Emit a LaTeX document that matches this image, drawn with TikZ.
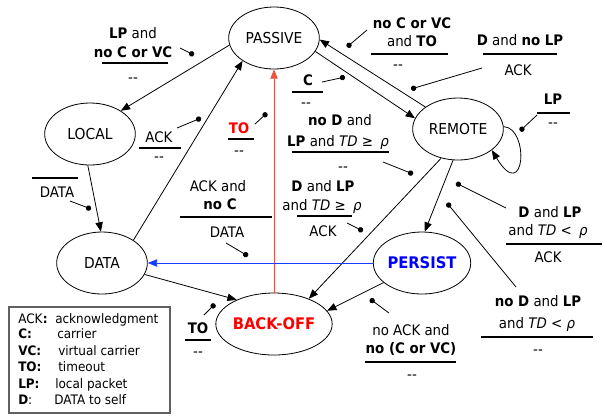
\documentclass[tikz,border=0pt]{standalone}
\usepackage{fontspec}
\setmainfont{DejaVu Sans}[FakeStretch=0.92]
\usetikzlibrary{arrows.meta,shapes.geometric}
\definecolor{redc}{HTML}{FF0000}
\definecolor{redl}{HTML}{F0503C}
\definecolor{bluec}{HTML}{0000FF}
\definecolor{bluel}{HTML}{1A3CFF}
\definecolor{legb}{HTML}{606060}
\newcommand\nf{\fontsize{11.3}{13}\selectfont}
\newcommand\bnf{\fontsize{12}{14}\selectfont\bfseries}
\newcommand\lf{\fontsize{10.9}{13}\selectfont}
\newcommand\gf{\fontsize{9.8}{12}\selectfont}
\newcommand\dd{-{}-}
\begin{document}
\begin{tikzpicture}[x=0.75pt,y=-0.75pt,
 st/.style={ellipse,draw,line width=0.6pt,minimum width=68pt,minimum height=46.5pt,inner sep=0pt,font=\nf},
 tx/.style={anchor=base,inner sep=0pt,font=\lf},
 gx/.style={anchor=base west,inner sep=0pt,font=\gf},
 rl/.style={line width=1.3pt},
 ed/.style={line width=0.6pt,-{Triangle[length=7pt,width=5.5pt]}},
 pt/.style={line width=0.6pt,-{Circle[length=4pt]}},
]
\useasboundingbox (0,0) rectangle (605,415);

% states
\node[st] (PASSIVE) at (274,38) {PASSIVE};
\node[st] (LOCAL) at (90,134) {LOCAL};
\node[st] (REMOTE) at (458,129) {REMOTE};
\node[st] (DATA) at (102,263) {DATA};
\node[st] (BACKOFF) at (274,324) {\bnf\textcolor{redc}{BACK-OFF}};
\node[st] (PERSIST) at (422,263) {\bnf\textcolor{bluec}{PERSIST}};

% transitions
\draw[ed] (PASSIVE.189) -- (LOCAL.37);
\draw[ed] (LOCAL.266) -- (DATA.92);
\draw[ed] (DATA.36) -- (PASSIVE.216);
\draw[ed,redl] (BACKOFF.90) -- (PASSIVE.270);
\draw[ed] (PASSIVE.342) -- (REMOTE.166);
\draw[ed] (REMOTE.146) -- (PASSIVE.358);
\draw[ed] (REMOTE.3) .. controls (530,128) and (525,205) .. (REMOTE.328);
\draw[ed] (REMOTE.240) -- (BACKOFF.36);
\draw[ed] (REMOTE.261) -- (PERSIST.85);
\draw[ed,bluel] (PERSIST.180) -- (DATA.0);
\draw[ed] (PERSIST.207) -- (BACKOFF.14);
\draw[ed] (DATA.-15) -- (BACKOFF.147);

% L1
\node[tx] (l1a) at (133,38) {\textbf{LP} and};
\node[tx] (l1b) at (133,57) {\textbf{no C or VC}};
\draw[rl] (102,63) -- (168,63);
\node[tx] (l1c) at (133,82.5) {\dd};
\coordinate (p1a) at (180,48); \coordinate (p1b) at (194,55);
\draw[pt] (p1a) -- (p1b);

% L2
\node[tx] (l2a) at (159,142) {ACK};
\draw[rl] (139,148) -- (181,148);
\node[tx] (l2b) at (159,161.5) {\dd};
\coordinate (p2a) at (177,128); \coordinate (p2b) at (201,118);
\draw[pt] (p2a) -- (p2b);

% L3
\node[tx] (l3a) at (239,133) {\textbf{\textcolor{redc}{TO}}};
\draw[rl] (228,139) -- (254,139);
\node[tx] (l3b) at (239,155.5) {\dd};
\coordinate (p3a) at (255,124); \coordinate (p3b) at (267,113);
\draw[pt] (p3a) -- (p3b);

% L4
\draw[rl] (32,178) -- (78,178);
\node[tx] (l4a) at (57,197) {DATA};
\coordinate (p4a) at (70,201); \coordinate (p4b) at (91,209);
\draw[pt] (p4a) -- (p4b);

% L5
\node[tx] (l5a) at (218,191) {ACK and};
\node[tx] (l5b) at (220,209) {\textbf{no C}};
\draw[rl] (180,217) -- (272,217);
\node[tx] (l5c) at (227,237) {DATA};
\coordinate (p5a) at (226,243); \coordinate (p5b) at (248,256);
\draw[pt] (p5a) -- (p5b);

% L6
\node[tx] (l6a) at (308,85) {\textbf{C}};
\draw[rl] (292,92) -- (323,92);
\node[tx] (l6b) at (306,107.5) {\dd};
\coordinate (p6a) at (322,82); \coordinate (p6b) at (345,77);
\draw[pt] (p6a) -- (p6b);

% L7
\node[tx] (l7a) at (412,28) {\textbf{no C or VC}};
\node[tx] (l7b) at (412,46) {and \textbf{TO}};
\draw[rl] (371,54) -- (448,54);
\node[tx] (l7c) at (398,69.5) {\dd};
\coordinate (p7a) at (367,30); \coordinate (p7b) at (347,47);
\draw[pt] (p7a) -- (p7b);

% L8
\node[tx] (l8a) at (520,45) {\textbf{D} and \textbf{no LP}};
\draw[rl] (483,54) -- (557,54);
\node[tx] (l8b) at (518,75) {ACK};
\coordinate (p8a) at (482,68); \coordinate (p8b) at (411,89);
\draw[pt] (p8a) -- (p8b);

% L9
\node[tx] (l9a) at (553,104) {\textbf{LP}};
\draw[rl] (537,113) -- (570,113);
\node[tx] (l9b) at (553,127.5) {\dd};
\coordinate (p9a) at (537,115); \coordinate (p9b) at (520,131);
\draw[pt] (p9a) -- (p9b);

% L10
\node[tx] (l10a) at (340,125) {\textbf{no D} and};
\node[tx] (l10b) at (338,146) {\textbf{LP} and \textit{TD} ≥\enspace\textit{ρ}};
\draw[rl] (292,152) -- (389,152);
\node[tx] (l10c) at (343,171.5) {\dd};
\coordinate (p10a) at (383,162); \coordinate (p10b) at (413,174);
\draw[pt] (p10a) -- (p10b);

% L11
\node[tx] (l11a) at (323,191) {\textbf{D} and \textbf{LP}};
\node[tx] (l11b) at (322,210) {and \textit{TD} ≥\enspace\textit{ρ}};
\draw[rl] (297,216) -- (352,216);
\node[tx] (l11c) at (323,236) {ACK};
\coordinate (p11a) at (347,223); \coordinate (p11b) at (363,231);
\draw[pt] (p11a) -- (p11b);

% L12
\node[tx] (l12a) at (550,217) {\textbf{D} and \textbf{LP}};
\node[tx] (l12b) at (548,235) {and \textit{TD} <\enspace\textit{ρ}};
\draw[rl] (506,244) -- (602,244);
\node[tx] (l12c) at (548,262) {ACK};
\coordinate (p12a) at (506,208); \coordinate (p12b) at (456,183);
\draw[pt] (p12a) -- (p12b);

% L13
\node[tx] (l13a) at (538,306) {\textbf{no D} and \textbf{LP}};
\node[tx] (l13b) at (537,328) {and \textit{TD} < \textit{ρ}};
\draw[rl] (481,337) -- (593,337);
\node[tx] (l13c) at (538,354.5) {\dd};
\coordinate (p13a) at (516,287); \coordinate (p13b) at (447,203);
\draw[pt] (p13a) -- (p13b);

% L14
\node[tx] (l14a) at (411,335) {no ACK and};
\node[tx] (l14b) at (411,353) {\textbf{no (C or VC)}};
\draw[rl] (365,362) -- (456,362);
\node[tx] (l14c) at (412,379.5) {\dd};
\coordinate (p14a) at (389,313); \coordinate (p14b) at (370,299);
\draw[pt] (p14a) -- (p14b);

% L15
\node[tx] (l15a) at (198,333) {\textbf{TO}};
\draw[rl] (185,340) -- (211,340);
\node[tx] (l15b) at (198,356.5) {\dd};
\coordinate (p15a) at (204,315); \coordinate (p15b) at (215,304);
\draw[pt] (p15a) -- (p15b);

% legend
\draw[legb,line width=0.8pt] (9,307) rectangle (170,413);
\node[gx] (k1) at (18,323) {ACK\textbf{:}};
\node[gx] (d1) at (55,323) {acknowledgment};
\node[gx] (k2) at (18,338) {\textbf{C:}};
\node[gx] (d2) at (57,338) {carrier};
\node[gx] (k3) at (18,355) {\textbf{VC:}};
\node[gx] (d3) at (58,355) {virtual carrier};
\node[gx] (k4) at (18,371.5) {\textbf{TO:}};
\node[gx] (d4) at (58,371.5) {timeout};
\node[gx] (k5) at (18,388) {\textbf{LP:}};
\node[gx] (d5) at (55,388) {local packet};
\node[gx] (k6) at (18,404) {\textbf{D}:};
\node[gx] (d6) at (54,404) {DATA to self};
\end{tikzpicture}
\end{document}
